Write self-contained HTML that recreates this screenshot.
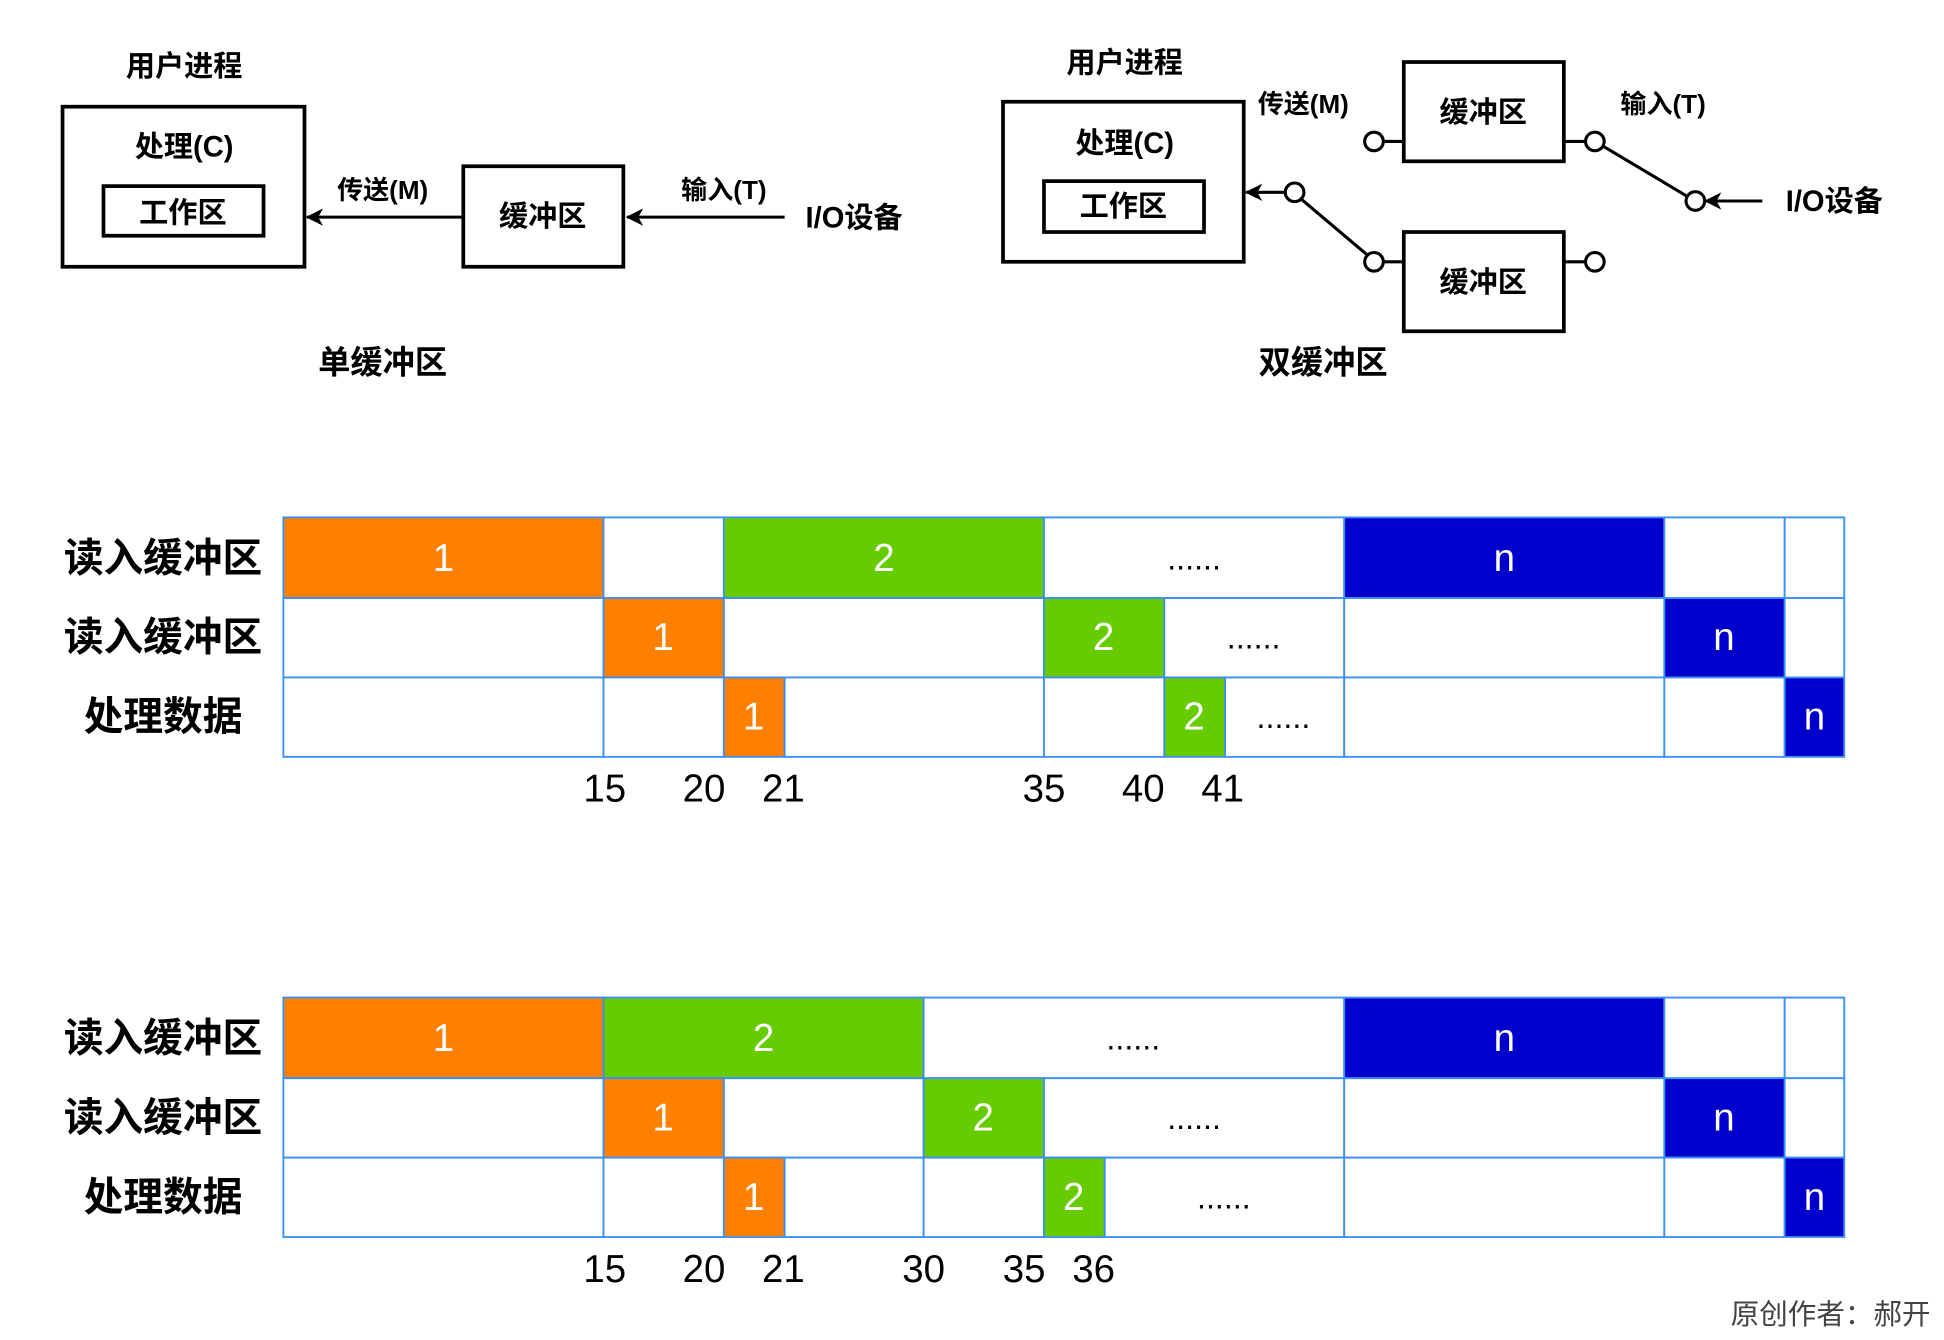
<!DOCTYPE html>
<html><head><meta charset="utf-8"><style>
html,body{margin:0;padding:0;background:#fff;}
svg{display:block;}
text{font-family:"Liberation Sans","Noto Sans CJK SC",sans-serif;}
.b{font-weight:bold;fill:#000;}
.c rect{stroke:#3d8ff5;stroke-width:1.5;}
.w{fill:#fff}.o{fill:#ff8000}.g{fill:#66cc00}.u{fill:#0000cc}
.cl{fill:#fff;font-size:31px;text-anchor:middle;dominant-baseline:central}
.d{fill:#000;font-size:26px;text-anchor:middle;dominant-baseline:central}
.rl{font-size:32px;font-weight:bold;text-anchor:middle;dominant-baseline:central}
.nm{font-size:31px;text-anchor:middle;dominant-baseline:central}
</style></head><body>
<svg width="1944" height="1340" viewBox="0 0 1566 1080" xmlns="http://www.w3.org/2000/svg">
<defs><marker id="ar" markerWidth="14" markerHeight="14" refX="13" refY="7" orient="auto" markerUnits="userSpaceOnUse" viewBox="0 0 14 14"><path d="M0,0 L14,7 L0,14 L4,7 Z" fill="#000"/></marker></defs>
<g fill="none" stroke="#000" stroke-width="3">
<rect x="50" y="86" width="195" height="129"/>
<rect x="83" y="150" width="129" height="40"/>
<rect x="373" y="134" width="129" height="81"/>
<rect x="808" y="82" width="194" height="129"/>
<rect x="841" y="146" width="129" height="41"/>
<rect x="1131" y="50" width="129" height="80"/>
<rect x="1131" y="187" width="129" height="80"/>
</g>
<g stroke="#000" stroke-width="2.5" fill="none">
<line x1="372" y1="175" x2="247" y2="175" marker-end="url(#ar)"/>
<line x1="632" y1="175" x2="505" y2="175" marker-end="url(#ar)"/>
<line x1="1035" y1="155" x2="1004" y2="155" marker-end="url(#ar)"/>
<line x1="1049" y1="161" x2="1101" y2="205"/>
<line x1="1115" y1="211" x2="1131" y2="211"/>
<line x1="1260" y1="211" x2="1277" y2="211"/>
<line x1="1115" y1="114" x2="1131" y2="114"/>
<line x1="1260" y1="114" x2="1277" y2="114"/>
<line x1="1292" y1="118" x2="1359" y2="158"/>
<line x1="1420" y1="162" x2="1374" y2="162" marker-end="url(#ar)"/>
<circle cx="1043" cy="155" r="7.5" fill="#fff"/>
<circle cx="1107" cy="211" r="7.5" fill="#fff"/>
<circle cx="1285" cy="211" r="7.5" fill="#fff"/>
<circle cx="1107" cy="114" r="7.5" fill="#fff"/>
<circle cx="1285" cy="114" r="7.5" fill="#fff"/>
<circle cx="1366" cy="162" r="7.5" fill="#fff"/>
</g>
<g class="b" font-size="23.5" text-anchor="middle" dominant-baseline="central">
<text x="148" y="54">用户进程</text>
<text x="148" y="119">处理(C)</text>
<text x="147" y="172">工作区</text>
<text x="308" y="153" font-size="21">传送(M)</text>
<text x="437" y="175">缓冲区</text>
<text x="583" y="153" font-size="21">输入(T)</text>
<text x="688" y="176">I/O设备</text>
<text x="308" y="292" font-size="26">单缓冲区</text>
<text x="906" y="51">用户进程</text>
<text x="906" y="116">处理(C)</text>
<text x="905" y="167">工作区</text>
<text x="1050" y="84" font-size="21">传送(M)</text>
<text x="1195" y="91">缓冲区</text>
<text x="1195" y="228">缓冲区</text>
<text x="1340" y="84" font-size="21">输入(T)</text>
<text x="1478" y="163">I/O设备</text>
<text x="1066" y="292" font-size="26">双缓冲区</text>
</g>
<g class="c">
<rect class="o" x="228" y="417" width="258" height="65"/><rect class="w" x="486" y="417" width="97" height="65"/><rect class="g" x="583" y="417" width="258" height="65"/><rect class="w" x="841" y="417" width="242" height="65"/><rect class="u" x="1083" y="417" width="258" height="65"/><rect class="w" x="1341" y="417" width="97" height="65"/><rect class="w" x="1438" y="417" width="48" height="65"/>
<rect class="w" x="228" y="482" width="258" height="64"/><rect class="o" x="486" y="482" width="97" height="64"/><rect class="w" x="583" y="482" width="258" height="64"/><rect class="g" x="841" y="482" width="97" height="64"/><rect class="w" x="938" y="482" width="145" height="64"/><rect class="w" x="1083" y="482" width="258" height="64"/><rect class="u" x="1341" y="482" width="97" height="64"/><rect class="w" x="1438" y="482" width="48" height="64"/>
<rect class="w" x="228" y="546" width="258" height="64"/><rect class="w" x="486" y="546" width="97" height="64"/><rect class="o" x="583" y="546" width="49" height="64"/><rect class="w" x="632" y="546" width="209" height="64"/><rect class="w" x="841" y="546" width="97" height="64"/><rect class="g" x="938" y="546" width="49" height="64"/><rect class="w" x="987" y="546" width="96" height="64"/><rect class="w" x="1083" y="546" width="258" height="64"/><rect class="w" x="1341" y="546" width="97" height="64"/><rect class="u" x="1438" y="546" width="48" height="64"/>

<rect class="o" x="228" y="804" width="258" height="65"/><rect class="g" x="486" y="804" width="258" height="65"/><rect class="w" x="744" y="804" width="339" height="65"/><rect class="u" x="1083" y="804" width="258" height="65"/><rect class="w" x="1341" y="804" width="97" height="65"/><rect class="w" x="1438" y="804" width="48" height="65"/>
<rect class="w" x="228" y="869" width="258" height="64"/><rect class="o" x="486" y="869" width="97" height="64"/><rect class="w" x="583" y="869" width="161" height="64"/><rect class="g" x="744" y="869" width="97" height="64"/><rect class="w" x="841" y="869" width="242" height="64"/><rect class="w" x="1083" y="869" width="258" height="64"/><rect class="u" x="1341" y="869" width="97" height="64"/><rect class="w" x="1438" y="869" width="48" height="64"/>
<rect class="w" x="228" y="933" width="258" height="64"/><rect class="w" x="486" y="933" width="97" height="64"/><rect class="o" x="583" y="933" width="49" height="64"/><rect class="w" x="632" y="933" width="112" height="64"/><rect class="w" x="744" y="933" width="97" height="64"/><rect class="g" x="841" y="933" width="49" height="64"/><rect class="w" x="890" y="933" width="193" height="64"/><rect class="w" x="1083" y="933" width="258" height="64"/><rect class="w" x="1341" y="933" width="97" height="64"/><rect class="u" x="1438" y="933" width="48" height="64"/>
</g>
<text class="cl" x="357" y="450">1</text><text class="cl" x="712" y="450">2</text><text class="d" x="962" y="450">......</text><text class="cl" x="1212" y="450">n</text>
<text class="cl" x="534" y="514">1</text><text class="cl" x="889" y="514">2</text><text class="d" x="1010" y="514">......</text><text class="cl" x="1389" y="514">n</text>
<text class="cl" x="607" y="578">1</text><text class="cl" x="962" y="578">2</text><text class="d" x="1034" y="578">......</text><text class="cl" x="1462" y="578">n</text>
<text class="cl" x="357" y="837">1</text><text class="cl" x="615" y="837">2</text><text class="d" x="913" y="837">......</text><text class="cl" x="1212" y="837">n</text>
<text class="cl" x="534" y="901">1</text><text class="cl" x="792" y="901">2</text><text class="d" x="962" y="901">......</text><text class="cl" x="1389" y="901">n</text>
<text class="cl" x="607" y="965">1</text><text class="cl" x="865" y="965">2</text><text class="d" x="986" y="965">......</text><text class="cl" x="1462" y="965">n</text>
<g class="rl">
<text x="131" y="450">读入缓冲区</text><text x="131" y="514">读入缓冲区</text><text x="131" y="578">处理数据</text>
<text x="131" y="837">读入缓冲区</text><text x="131" y="901">读入缓冲区</text><text x="131" y="965">处理数据</text>
</g>
<g class="nm">
<text x="487" y="636">15</text><text x="567" y="636">20</text><text x="631" y="636">21</text><text x="841" y="636">35</text><text x="921" y="636">40</text><text x="985" y="636">41</text>
<text x="487" y="1023">15</text><text x="567" y="1023">20</text><text x="631" y="1023">21</text><text x="744" y="1023">30</text><text x="825" y="1023">35</text><text x="881" y="1023">36</text>
</g>
<text x="1475" y="1060" font-size="23" fill="#444" text-anchor="middle" dominant-baseline="central">原创作者：郝开</text>
</svg>
</body></html>
